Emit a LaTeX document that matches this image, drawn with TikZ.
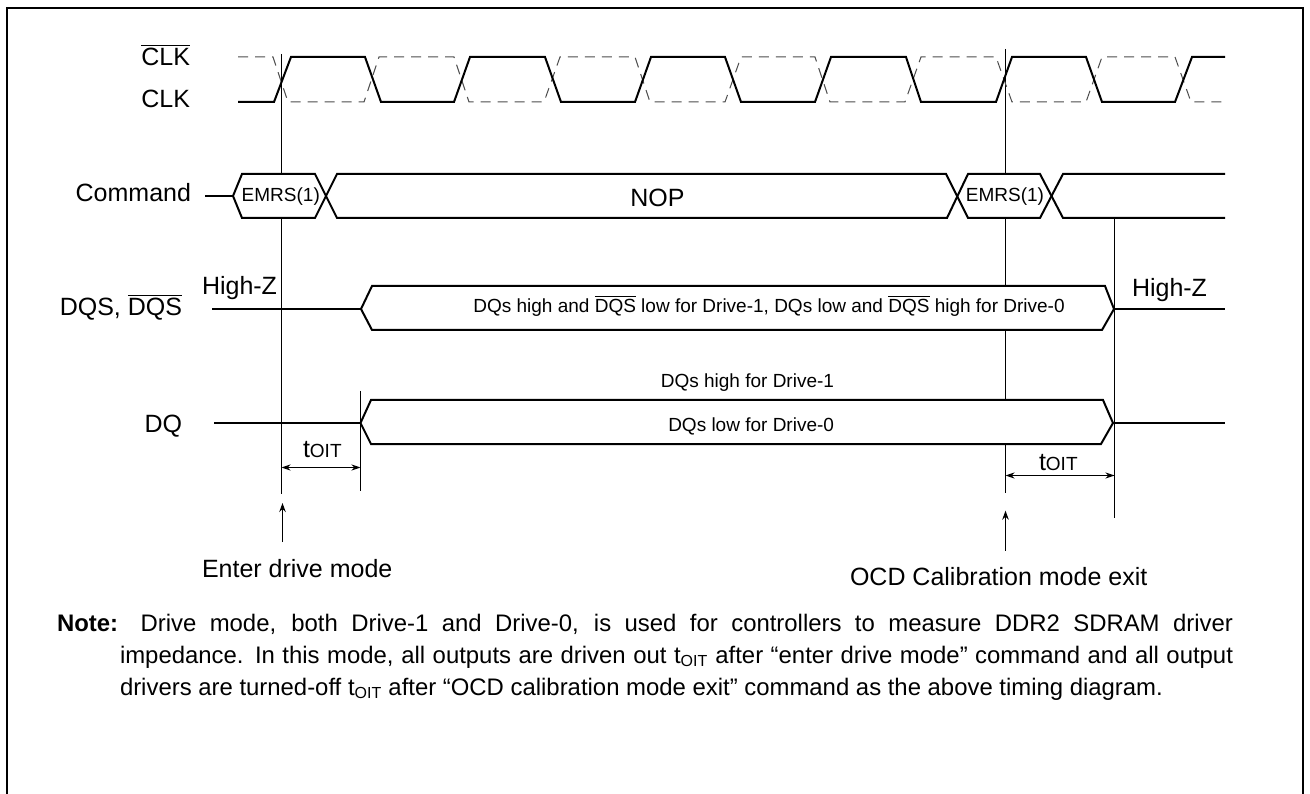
\documentclass[tikz,border=0pt]{standalone}
\usepackage{fontspec}
\setmainfont{Liberation Sans}
\usetikzlibrary{arrows.meta}
\newcommand\ovl[1]{\leavevmode\vbox{\hrule height 1pt\kern 2.4pt\hbox{#1}}}
\newcommand\ovs[1]{\leavevmode\vbox{\hrule height .9pt\kern 3pt\hbox{#1}}}
\newcommand\fs[1]{\fontsize{#1}{#1}\selectfont}
\newcommand\toit{{\fs{25}t\fs{19}OIT}}
\newcommand\subo{$_{\hbox{\fs{16}OIT}}$}
\tikzset{
  sig/.style={line width=2pt,line join=miter,line cap=butt},
  dsh/.style={line width=1pt,black!70,dash pattern=on 10pt off 7pt},
  thin line/.style={line width=1pt},
  meas/.style={line width=1pt,{Stealth[length=9pt,width=6pt]}-{Stealth[length=9pt,width=6pt]}},
  up/.style={line width=1pt,-{Stealth[length=9pt,width=6.5pt]}},
  lab/.style={inner sep=0pt,outer sep=0pt,font=\fs{25}},
  small/.style={inner sep=0pt,outer sep=0pt,font=\fs{19}},
  hexf/.style={sig,fill=white},
  lbl/.style={lab,anchor=base east},
  lbw/.style={lab,anchor=base west},
  note/.style={lab,anchor=base west,font=\fs{23.9}},
}
\begin{document}
\begin{tikzpicture}[x=1pt,y=-1pt]
\useasboundingbox (0,0) rectangle (1310,794);
\draw[line width=2pt] (7,794) -- (7,8) -- (1303,8) -- (1303,794);
% reference lines
\draw[thin line] (281.5,54) -- (281.5,494);
\draw[thin line] (1005.5,49) -- (1005.5,493);
% clock
\draw[dsh] (238,57) -- (273,57) -- (288,102) -- (364,102) -- (379,57) -- (454,57) -- (469,102) -- (544,102) -- (560,57) -- (635,57) -- (650,102) -- (725,102) -- (741,57) -- (815,57) -- (830,102) -- (905,102) -- (921,57) -- (996,57) -- (1012,102) -- (1086,102) -- (1102,57) -- (1175,57) -- (1191,102) -- (1225,102);
\draw[sig] (238,102) -- (274,102) -- (291,57) -- (365,57) -- (381,102) -- (454,102) -- (470,57) -- (545,57) -- (561,102) -- (635,102) -- (651,57) -- (725,57) -- (741,102) -- (815,102) -- (831,57) -- (906,57) -- (921,102) -- (996,102) -- (1012,57) -- (1086,57) -- (1102,102) -- (1175,102) -- (1192,57) -- (1225,57);
% command
\fill[white] (233,196) -- (242,174) -- (1225,174) -- (1225,218) -- (242,218) -- cycle;
\draw[sig] (205,196) -- (233,196);
\draw[sig] (233,196) -- (242,174) -- (315,174) -- (337,218) -- (947,218) -- (968,174) -- (1040,174) -- (1063,218) -- (1225,218);
\draw[sig] (233,196) -- (242,218) -- (315,218) -- (337,174) -- (946,174) -- (968,218) -- (1040,218) -- (1063,174) -- (1225,174);
\node[small,anchor=base] (emrsa) at (280.8,201.3) {EMRS(1)};
\node[small,anchor=base] (emrsb) at (1005,201.3) {EMRS(1)};
\node[lab,anchor=base] (nop) at (657.5,206.7) {NOP};
% DQS
\draw[sig] (212,309) -- (361,309);
\draw[hexf] (361,309) -- (372,286) -- (1105,286) -- (1114,309) -- (1102,330) -- (372,330) -- cycle;
\draw[sig] (1114,309) -- (1225,309);
% DQ
\draw[hexf] (360.5,423) -- (371,400) -- (1103,400) -- (1113,423) -- (1101,444) -- (371,444) -- cycle;
\draw[sig] (214,423) -- (360.5,423);
\draw[sig] (1113,423) -- (1225,423);
\draw[thin line] (1114.5,218) -- (1114.5,518);
\draw[thin line] (360.5,391) -- (360.5,490.7);
% measures
\draw[meas] (281.5,467.5) -- (360.5,467.5);
\draw[meas] (1005.5,475.5) -- (1114.5,475.5);
\draw[up] (282.5,542) -- (282.5,503);
\draw[up] (1005.5,550.7) -- (1005.5,510.7);
% labels
\node[lbl] (clkb) at (190,65.7) {\ovl{CLK}};
\node[lbl] (clk) at (190,108) {CLK};
\node[lbl] (cmd) at (191,201.7) {Command};
\node[lbl] (dqs) at (182,316) {DQS, \ovl{DQS}};
\node[lbl] (dq) at (182,432) {DQ};
\node[lbw] (hz1) at (202,295) {High-Z};
\node[lbw] (hz2) at (1132,297) {High-Z};
\node[lbw] (t1) at (303,457) {\toit};
\node[lbw] (t2) at (1039,470) {\toit};
\node[lbw] (enter) at (202,577) {Enter drive mode};
\node[lbw] (ocd) at (850,585.7) {OCD Calibration mode exit};
\node[small,anchor=base] (dqstext) at (769,313) {DQs high and \ovs{DQS} low for Drive-1, DQs low and \ovs{DQS} high for Drive-0};
\node[small,anchor=base east] (dq1) at (834,388) {DQs high for Drive-1};
\node[small,anchor=base east] (dq0) at (834,431.6) {DQs low for Drive-0};
% note
\node[note] (n1) at (57,631) {\makebox[1176pt][s]{\textbf{Note:} Drive mode, both Drive-1 and Drive-0, is used for controllers to measure DDR2 SDRAM driver}};
\node[note] (n2) at (120,663) {\makebox[1113pt][s]{impedance. In this mode, all outputs are driven out t\subo{} after “enter drive mode” command and all output}};
\node[note] (n3) at (120,695) {drivers are turned-off t\subo{} after “OCD calibration mode exit” command as the above timing diagram.};
\end{tikzpicture}
\end{document}
